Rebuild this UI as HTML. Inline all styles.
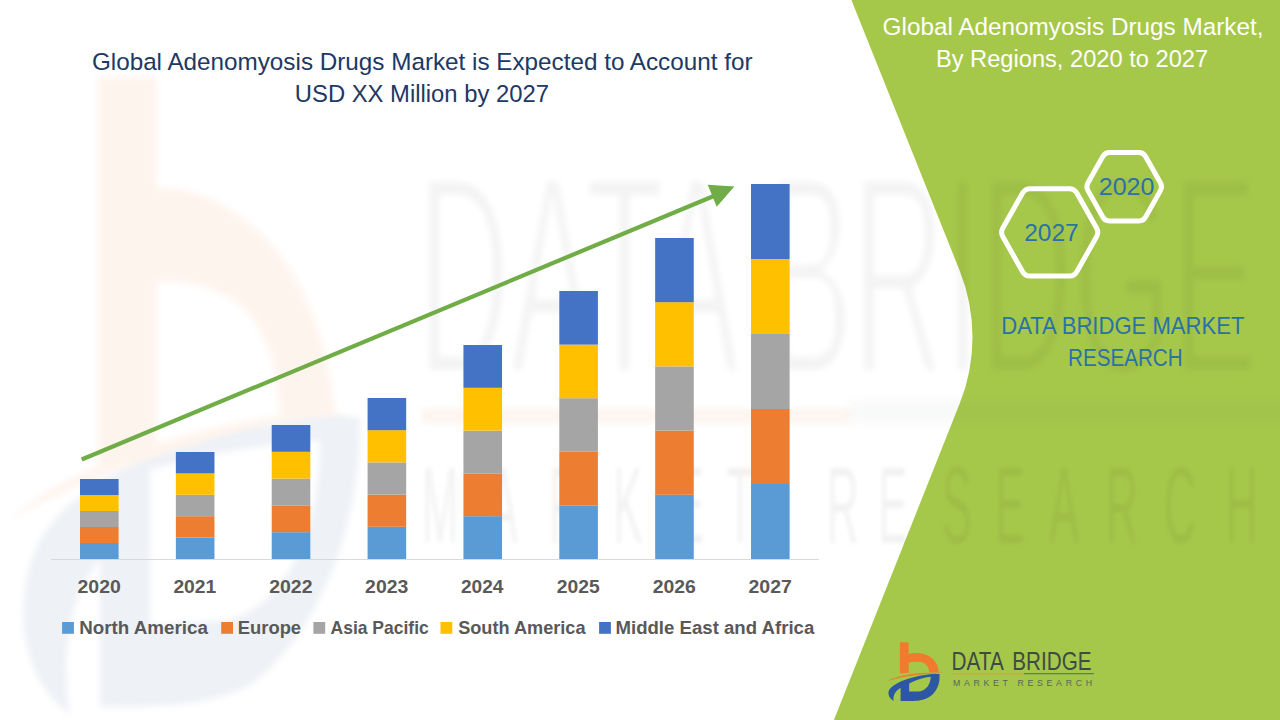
<!DOCTYPE html>
<html><head><meta charset="utf-8"><style>
html,body{margin:0;padding:0;background:#fff;}
svg{display:block;font-family:"Liberation Sans", sans-serif;}
</style></head><body>
<svg width="1280" height="720" viewBox="0 0 1280 720">
<defs>
<filter id="bl" x="-10%" y="-10%" width="120%" height="120%"><feGaussianBlur stdDeviation="3"/></filter>
<filter id="bl2" x="-10%" y="-10%" width="120%" height="120%"><feGaussianBlur stdDeviation="2"/></filter>
<filter id="bl3" x="-10%" y="-60%" width="120%" height="220%"><feGaussianBlur stdDeviation="6"/></filter>
<filter id="thin" x="-5%" y="-5%" width="110%" height="110%"><feMorphology operator="erode" radius="1 4"/><feGaussianBlur stdDeviation="3"/></filter>
</defs>
<rect width="1280" height="720" fill="#FFFFFF"/>
<g filter="url(#bl)"><path d="M 98 77 L 157 77 L 157 188 C 200 185 250 215 280 255 C 310 295 330 350 336 420 L 336 440 L 282 440 L 280 420 C 278 370 265 330 245 310 C 225 290 190 280 157 282 L 157 460 L 98 470 Z" fill="#FEF4EE"/><path d="M 70 714 C 20 680 10 600 40 540 C 80 470 200 430 340 415 L 360 418 C 362 520 322 630 252 684 C 212 707 150 707 100 707 L 100 560 C 72 590 60 650 70 714 Z M 150 470 C 200 455 260 445 320 440 C 320 530 290 600 230 620 L 150 625 Z" fill="#EEF1F6" fill-rule="evenodd"/><path d="M 8 520 C 80 460 200 420 345 408 C 220 430 100 470 8 520 Z" fill="#FEF4ED"/></g>
<path d="M 851.4 0 L 1280 0 L 1280 720 L 833.9 720 L 959.8 403.3 A 179 179 0 0 0 959.7 270.7 Z" fill="#A6C84A"/>
<g opacity="0.045" filter="url(#thin)"><text transform="translate(417.79,374.00) scale(0.4471,1)" font-size="285.51" fill="#000">DATA BRIDGE</text>
</g><g opacity="0.05" filter="url(#bl2)"><text transform="translate(440,543) scale(0.40,1)" font-size="110" text-anchor="middle" fill="#000">M</text><text transform="translate(503,543) scale(0.40,1)" font-size="110" text-anchor="middle" fill="#000">A</text><text transform="translate(565,543) scale(0.40,1)" font-size="110" text-anchor="middle" fill="#000">R</text><text transform="translate(628,543) scale(0.40,1)" font-size="110" text-anchor="middle" fill="#000">K</text><text transform="translate(690,543) scale(0.40,1)" font-size="110" text-anchor="middle" fill="#000">E</text><text transform="translate(740,543) scale(0.40,1)" font-size="110" text-anchor="middle" fill="#000">T</text><text transform="translate(843,543) scale(0.40,1)" font-size="110" text-anchor="middle" fill="#000">R</text><text transform="translate(893,543) scale(0.40,1)" font-size="110" text-anchor="middle" fill="#000">E</text><text transform="translate(957,543) scale(0.40,1)" font-size="110" text-anchor="middle" fill="#000">S</text><text transform="translate(1010,543) scale(0.40,1)" font-size="110" text-anchor="middle" fill="#000">E</text><text transform="translate(1064,543) scale(0.40,1)" font-size="110" text-anchor="middle" fill="#000">A</text><text transform="translate(1122,543) scale(0.40,1)" font-size="110" text-anchor="middle" fill="#000">R</text><text transform="translate(1180,543) scale(0.40,1)" font-size="110" text-anchor="middle" fill="#000">C</text><text transform="translate(1242,543) scale(0.40,1)" font-size="110" text-anchor="middle" fill="#000">H</text></g>
<rect x="422" y="408" width="428" height="16" fill="#F8CBAD" opacity="0.18" filter="url(#bl)"/>
<rect x="850" y="401" width="440" height="22" fill="#44546A" opacity="0.035" filter="url(#bl3)"/>
<line x1="51" y1="559.5" x2="819" y2="559.5" stroke="#D9D9D9" stroke-width="1"/>
<rect x="80.00" y="543.00" width="38.6" height="16.00" fill="#5B9BD5"/><rect x="80.00" y="527.00" width="38.6" height="16.00" fill="#ED7D31"/><rect x="80.00" y="511.00" width="38.6" height="16.00" fill="#A5A5A5"/><rect x="80.00" y="495.00" width="38.6" height="16.00" fill="#FFC000"/><rect x="80.00" y="479.00" width="38.6" height="16.00" fill="#4472C4"/><rect x="175.86" y="537.60" width="38.6" height="21.40" fill="#5B9BD5"/><rect x="175.86" y="516.20" width="38.6" height="21.40" fill="#ED7D31"/><rect x="175.86" y="494.80" width="38.6" height="21.40" fill="#A5A5A5"/><rect x="175.86" y="473.40" width="38.6" height="21.40" fill="#FFC000"/><rect x="175.86" y="452.00" width="38.6" height="21.40" fill="#4472C4"/><rect x="271.72" y="532.20" width="38.6" height="26.80" fill="#5B9BD5"/><rect x="271.72" y="505.40" width="38.6" height="26.80" fill="#ED7D31"/><rect x="271.72" y="478.60" width="38.6" height="26.80" fill="#A5A5A5"/><rect x="271.72" y="451.80" width="38.6" height="26.80" fill="#FFC000"/><rect x="271.72" y="425.00" width="38.6" height="26.80" fill="#4472C4"/><rect x="367.58" y="526.80" width="38.6" height="32.20" fill="#5B9BD5"/><rect x="367.58" y="494.60" width="38.6" height="32.20" fill="#ED7D31"/><rect x="367.58" y="462.40" width="38.6" height="32.20" fill="#A5A5A5"/><rect x="367.58" y="430.20" width="38.6" height="32.20" fill="#FFC000"/><rect x="367.58" y="398.00" width="38.6" height="32.20" fill="#4472C4"/><rect x="463.44" y="516.20" width="38.6" height="42.80" fill="#5B9BD5"/><rect x="463.44" y="473.40" width="38.6" height="42.80" fill="#ED7D31"/><rect x="463.44" y="430.60" width="38.6" height="42.80" fill="#A5A5A5"/><rect x="463.44" y="387.80" width="38.6" height="42.80" fill="#FFC000"/><rect x="463.44" y="345.00" width="38.6" height="42.80" fill="#4472C4"/><rect x="559.30" y="505.40" width="38.6" height="53.60" fill="#5B9BD5"/><rect x="559.30" y="451.80" width="38.6" height="53.60" fill="#ED7D31"/><rect x="559.30" y="398.20" width="38.6" height="53.60" fill="#A5A5A5"/><rect x="559.30" y="344.60" width="38.6" height="53.60" fill="#FFC000"/><rect x="559.30" y="291.00" width="38.6" height="53.60" fill="#4472C4"/><rect x="655.16" y="494.80" width="38.6" height="64.20" fill="#5B9BD5"/><rect x="655.16" y="430.60" width="38.6" height="64.20" fill="#ED7D31"/><rect x="655.16" y="366.40" width="38.6" height="64.20" fill="#A5A5A5"/><rect x="655.16" y="302.20" width="38.6" height="64.20" fill="#FFC000"/><rect x="655.16" y="238.00" width="38.6" height="64.20" fill="#4472C4"/><rect x="751.02" y="484.00" width="38.6" height="75.00" fill="#5B9BD5"/><rect x="751.02" y="409.00" width="38.6" height="75.00" fill="#ED7D31"/><rect x="751.02" y="334.00" width="38.6" height="75.00" fill="#A5A5A5"/><rect x="751.02" y="259.00" width="38.6" height="75.00" fill="#FFC000"/><rect x="751.02" y="184.00" width="38.6" height="75.00" fill="#4472C4"/>
<path d="M 81.7 459.5 L 718 194.2" stroke="#70AD47" stroke-width="4.2" fill="none"/>
<path d="M 707.7 184.7 L 734.4 186.5 L 716.7 206.8 Z" fill="#70AD47"/>
<path d="M 1050 186.5 m -49.5 0" fill="none"/>
<path d="M 1096.54 228.05 Q 1099.00 232.40 1096.54 236.75 L 1076.81 271.75 Q 1074.35 276.10 1069.35 276.10 L 1030.05 276.10 Q 1025.05 276.10 1022.59 271.75 L 1002.86 236.75 Q 1000.40 232.40 1002.86 228.05 L 1022.59 193.05 Q 1025.05 188.70 1030.05 188.70 L 1069.35 188.70 Q 1074.35 188.70 1076.81 193.05 Z" fill="none" stroke="#FFFFFF" stroke-width="5"/>
<path d="M 1160.40 182.78 Q 1162.60 186.70 1160.40 190.62 L 1145.60 216.98 Q 1143.40 220.90 1138.90 220.90 L 1109.50 220.90 Q 1105.00 220.90 1102.80 216.98 L 1088.00 190.62 Q 1085.80 186.70 1088.00 182.78 L 1102.80 156.42 Q 1105.00 152.50 1109.50 152.50 L 1138.90 152.50 Q 1143.40 152.50 1145.60 156.42 Z" fill="none" stroke="#FFFFFF" stroke-width="5"/>
<rect x="62.1" y="622" width="11.8" height="11.8" fill="#5B9BD5"/><rect x="221.2" y="622" width="11.8" height="11.8" fill="#ED7D31"/><rect x="313.4" y="622" width="11.8" height="11.8" fill="#A5A5A5"/><rect x="440.5" y="622" width="11.8" height="11.8" fill="#FFC000"/><rect x="599.1" y="622" width="11.8" height="11.8" fill="#4472C4"/>
<g transform="translate(880,636) scale(0.09722)"><path d="M 205 65 L 295 65 L 295 185 C 330 172 420 165 490 200 C 560 235 600 290 605 372 L 505 372 C 505 320 470 270 400 266 C 350 263 320 266 295 272 L 295 378 L 205 385 Z" fill="#F07A2E"/><path d="M 140 668 C 60 610 70 540 170 490 C 280 430 430 400 560 388 L 612 390 C 620 480 590 570 510 625 C 450 665 380 668 320 668 L 212 668 L 212 535 C 170 555 130 600 140 668 Z M 300 488 C 370 450 450 425 522 418 C 520 490 480 560 400 570 L 300 572 Z" fill="#2D56A3" fill-rule="evenodd"/><path d="M 65 465 C 200 400 400 368 652 378 C 450 388 250 412 65 465 Z" fill="#F07A2E"/></g>
<text x="953" y="685.6" font-size="8.8" fill="#56655A" textLength="139" lengthAdjust="spacing">MARKET  RESEARCH</text><rect x="953" y="673" width="71" height="1.3" fill="#D9A441"/><rect x="1024" y="673" width="70" height="1.3" fill="#5E7C74"/>
<text transform="translate(91.89,69.70) scale(1.0149,1)" font-size="23.91" font-weight="normal" fill="#203864">Global Adenomyosis Drugs Market is Expected to Account for</text><text transform="translate(294.81,101.70) scale(0.9962,1)" font-size="23.91" font-weight="normal" fill="#203864">USD XX Million by 2027</text><text transform="translate(882.58,34.80) scale(0.9866,1)" font-size="24.64" font-weight="normal" fill="#FFFFFF">Global Adenomyosis Drugs Market,</text><text transform="translate(935.91,67.00) scale(0.9606,1)" font-size="24.64" font-weight="normal" fill="#FFFFFF">By Regions, 2020 to 2027</text><text transform="translate(1024.17,241.00) scale(1.0339,1)" font-size="23.71" font-weight="normal" fill="#2C71A6">2027</text><text transform="translate(1098.75,194.60) scale(1.0895,1)" font-size="23.00" font-weight="normal" fill="#2C71A6">2020</text><text transform="translate(1001.23,333.80) scale(0.9018,1)" font-size="24.49" font-weight="normal" fill="#2C71A6">DATA BRIDGE MARKET</text><text transform="translate(1068.05,365.80) scale(0.8787,1)" font-size="23.48" font-weight="normal" fill="#2C71A6">RESEARCH</text><text transform="translate(77.52,592.80) scale(1.0716,1)" font-size="18.14" font-weight="bold" fill="#595959">2020</text><text transform="translate(173.38,592.80) scale(1.0642,1)" font-size="18.14" font-weight="bold" fill="#595959">2021</text><text transform="translate(269.24,592.80) scale(1.0716,1)" font-size="18.14" font-weight="bold" fill="#595959">2022</text><text transform="translate(365.10,592.80) scale(1.0691,1)" font-size="18.14" font-weight="bold" fill="#595959">2023</text><text transform="translate(460.97,592.80) scale(1.0544,1)" font-size="18.14" font-weight="bold" fill="#595959">2024</text><text transform="translate(556.82,592.80) scale(1.0642,1)" font-size="18.14" font-weight="bold" fill="#595959">2025</text><text transform="translate(652.68,592.80) scale(1.0691,1)" font-size="18.14" font-weight="bold" fill="#595959">2026</text><text transform="translate(748.54,592.80) scale(1.0741,1)" font-size="18.14" font-weight="bold" fill="#595959">2027</text><text transform="translate(79.28,633.90) scale(1.0202,1)" font-size="18.41" font-weight="bold" fill="#595959">North America</text><text transform="translate(237.80,633.90) scale(0.9989,1)" font-size="18.41" font-weight="bold" fill="#595959">Europe</text><text transform="translate(330.56,633.90) scale(0.9508,1)" font-size="18.41" font-weight="bold" fill="#595959">Asia Pacific</text><text transform="translate(458.16,633.90) scale(0.9865,1)" font-size="18.41" font-weight="bold" fill="#595959">South America</text><text transform="translate(615.49,633.90) scale(1.0105,1)" font-size="18.41" font-weight="bold" fill="#595959">Middle East and Africa</text><text transform="translate(951.54,669.70) scale(0.7777,1)" font-size="26.67" font-weight="normal" fill="#3E4A44">DATA</text><text transform="translate(1012.35,669.70) scale(0.7743,1)" font-size="26.67" font-weight="normal" fill="#3E4A44">BRIDGE</text>
</svg>
</body></html>
